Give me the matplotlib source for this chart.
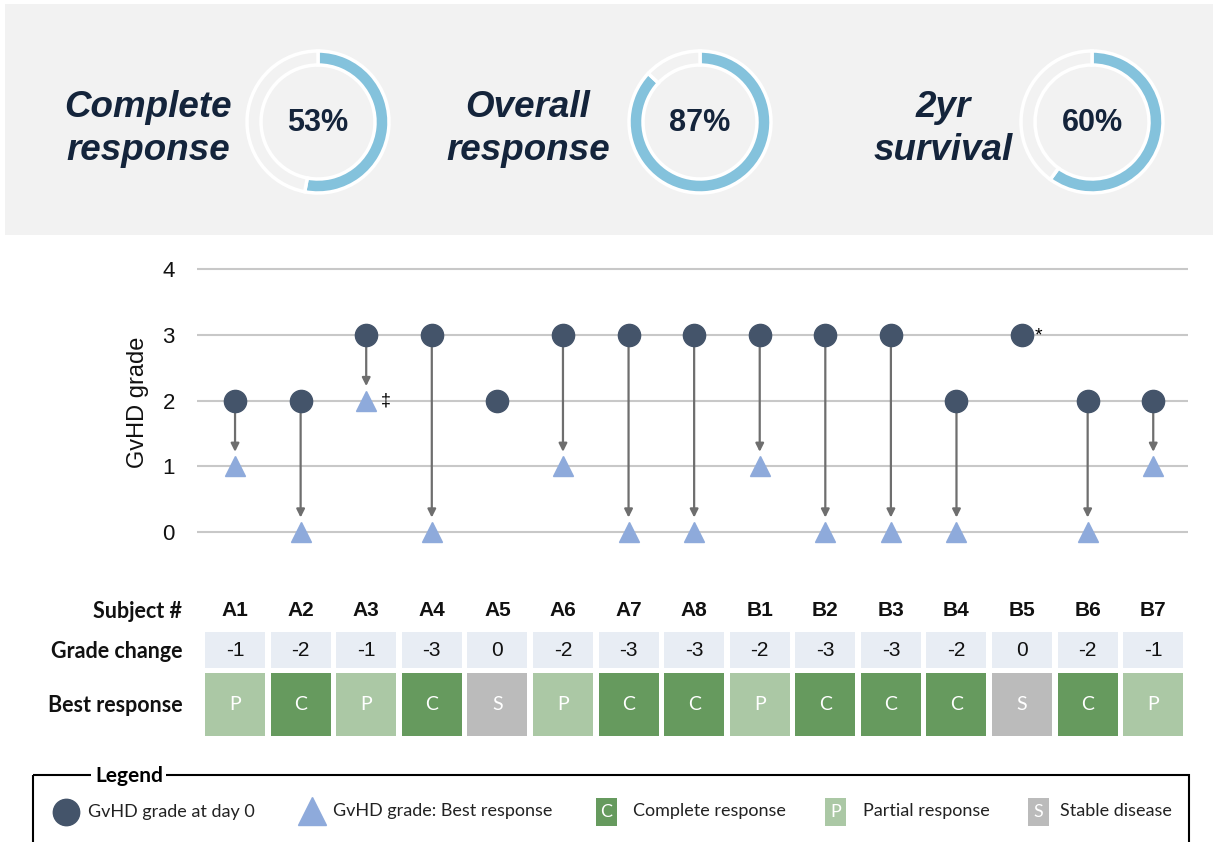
import matplotlib.pyplot as plt
from matplotlib.patches import Rectangle
import matplotlib.transforms as mtransforms

# Subject data
subjects = ['A1', 'A2', 'A3', 'A4', 'A5', 'A6', 'A7', 'A8',
            'B1', 'B2', 'B3', 'B4', 'B5', 'B6', 'B7']
grade_day0 = [2, 2, 3, 3, 2, 3, 3, 3, 3, 3, 3, 2, 3, 2, 2]
grade_best = [1, 0, 2, 0, None, 1, 0, 0, 1, 0, 0, 0, None, 0, 1]
grade_change = [-1, -2, -1, -3, 0, -2, -3, -3, -2, -3, -3, -2, 0, -2, -1]
best_response = ['P', 'C', 'P', 'C', 'S', 'P', 'C', 'C',
                 'P', 'C', 'C', 'C', 'S', 'C', 'P']

# Summary rates (%)
kpi_labels = ['Complete\nresponse', 'Overall\nresponse', '2yr\nsurvival']
kpi_values = [53, 87, 60]

# colours
NAVY = '#14243b'
DOT = '#44546a'
TRI = '#8eaadb'
ARROW = '#6e6e6e'
RING = '#84c2dc'
PANEL = '#f2f2f2'
resp_colors = {'C': '#669a5e', 'P': '#abc8a5', 'S': '#bbbbbb'}
resp_names = {'C': 'Complete response', 'P': 'Partial response', 'S': 'Stable disease'}

W, H = 1214, 842
fig = plt.figure(figsize=(W / 100, H / 100), dpi=100)


def fig_rect(x0, y0, x1, y1):
    return [x0 / W, 1 - y1 / H, (x1 - x0) / W, (y1 - y0) / H]


# background overlay in pixel units
bg = fig.add_axes([0, 0, 1, 1])
bg.set_xlim(0, W)
bg.set_ylim(H, 0)
bg.axis('off')
bg.add_patch(Rectangle((5, 4), 1208, 231, fc=PANEL, ec='none'))

# KPI donuts
label_x = [148, 528, 943]
donut_x = [318, 700, 1092]
cy = 122
for lab, val, lx, dx in zip(kpi_labels, kpi_values, label_x, donut_x):
    bg.text(lx, cy + 7, lab, ha='center', va='center', fontsize=26.5,
            fontweight='bold', fontstyle='italic', color=NAVY,
            family='Liberation Sans', linespacing=1.3)
    dax = fig.add_axes(fig_rect(dx - 78, cy - 78, dx + 78, cy + 78))
    dax.pie([val, 100 - val], colors=[RING, PANEL], radius=71,
            startangle=90, counterclock=False,
            wedgeprops=dict(width=14, edgecolor='white', linewidth=2.5))
    dax.set_xlim(-78, 78)
    dax.set_ylim(-78, 78)
    dax.set_aspect('equal')
    dax.text(0, -1, f'{val}%', ha='center', va='center', fontsize=22,
             fontweight='bold', color=NAVY, family='Liberation Sans')

# main dot/arrow chart
ax = fig.add_axes(fig_rect(197, 256, 1188, 555))
ax.patch.set_alpha(0)
xs = list(range(len(subjects)))
ax.set_xlim(-0.58, 14.53)
ax.set_ylim(-0.35, 4.2)
ax.set_yticks([0, 1, 2, 3, 4])
ax.set_xticks([])
ax.yaxis.grid(True, color='#c8c8c8', lw=1.5)
ax.set_axisbelow(True)
for s in ax.spines.values():
    s.set_visible(False)
ax.tick_params(axis='y', length=0, pad=16, labelsize=16, labelcolor='#111111')
for t in ax.get_yticklabels():
    t.set_family('Liberation Sans')

for i, (g0, gb) in enumerate(zip(grade_day0, grade_best)):
    if gb is None:
        continue
    ax.annotate('', xy=(i, gb + 0.22), xytext=(i, g0),
                arrowprops=dict(arrowstyle='-|>', color=ARROW, lw=1.6,
                                shrinkA=0, shrinkB=0, mutation_scale=12),
                zorder=2)

tx = [i for i, g in zip(xs, grade_best) if g is not None]
ty = [g for g in grade_best if g is not None]
ax.plot(tx, ty, '^', ms=15, color=TRI, ls='none', zorder=3, clip_on=False)
ax.plot(xs, grade_day0, 'o', ms=16, color=DOT, ls='none', zorder=4, clip_on=False)

# footnote marks
i3 = subjects.index('A3')
ax.annotate('\u2021', xy=(i3, grade_best[i3]), xytext=(14, 0),
            textcoords='offset points', ha='center', va='center', fontsize=13,
            family='Liberation Sans')
i5 = subjects.index('B5')
ax.annotate('*', xy=(i5, grade_day0[i5]), xytext=(12, -1),
            textcoords='offset points', ha='center', va='center', fontsize=14,
            family='Liberation Sans')

bg.text(138, 402, 'GvHD grade', rotation=90, ha='center', va='center',
        fontsize=17, family='Liberation Sans', color='#111111')

# table under the chart (y in pixel-like units)
tab = fig.add_axes(fig_rect(197, 590, 1188, 745))
tab.set_xlim(ax.get_xlim())
tab.set_ylim(745, 590)
tab.axis('off')
cw = 0.915
for i, (sub, chg, resp) in enumerate(zip(subjects, grade_change, best_response)):
    tab.text(i, 611, sub, ha='center', va='center', fontsize=15,
             fontweight='bold', family='Liberation Sans', color='#111111')
    tab.add_patch(Rectangle((i - cw / 2, 632), cw, 36, fc='#e8edf4', ec='none'))
    tab.text(i, 651, str(chg), ha='center', va='center', fontsize=15,
             family='Liberation Sans', color='#111111')
    tab.add_patch(Rectangle((i - cw / 2, 673), cw, 63, fc=resp_colors[resp], ec='none'))
    tab.text(i, 705, resp, ha='center', va='center', fontsize=14,
             family='Lato', color='white')

trans = mtransforms.blended_transform_factory(tab.transAxes, tab.transData)
for lab, y in [('Subject #', 611), ('Grade change', 651), ('Best response', 705)]:
    tab.text(-0.015, y, lab, transform=trans, ha='right', va='center',
             fontsize=15.5, fontweight='bold', family='Lato', color='#111111')

# legend box
bg.add_patch(Rectangle((33, 775), 1156, 120, fill=False, ec='black', lw=1.5))
bg.text(95, 776, 'Legend', ha='left', va='center', fontsize=15, fontweight='bold',
        family='Lato', color='black',
        bbox=dict(fc='white', ec='none', pad=2.5), zorder=5)
ly = 812
bg.plot([66], [ly], 'o', ms=19, color=DOT)
bg.text(88, ly, 'GvHD grade at day 0', va='center', fontsize=13, family='Lato',
        color='#222222')
bg.plot([312], [ly - 1], '^', ms=20, color=TRI)
bg.text(333, ly - 1, 'GvHD grade: Best response', va='center', fontsize=13,
        family='Lato', color='#222222')
for code, x0, tx0 in [('C', 596, 633), ('P', 825, 863), ('S', 1028, 1060)]:
    bg.add_patch(Rectangle((x0, 798), 21, 28, fc=resp_colors[code], ec='none'))
    bg.text(x0 + 10.5, 812, code, ha='center', va='center', fontsize=13,
            family='Lato', color='white')
    bg.text(tx0, 811, resp_names[code], va='center', fontsize=13,
            family='Lato', color='#222222')

fig.savefig('out.png', dpi=100)
